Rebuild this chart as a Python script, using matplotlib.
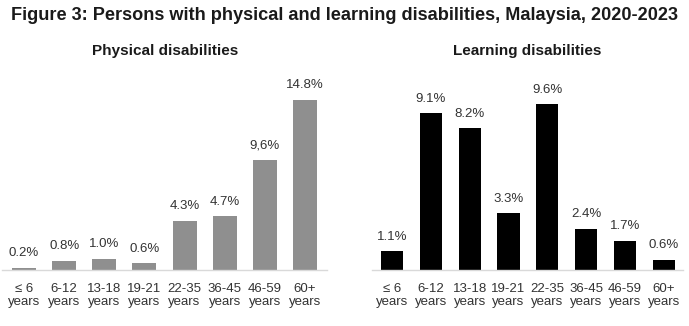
import matplotlib
matplotlib.use("Agg")
import matplotlib.pyplot as plt

plt.rcParams['font.family'] = ['Liberation Sans', 'DejaVu Sans']

categories = ["≤ 6\nyears", "6-12\nyears", "13-18\nyears", "19-21\nyears",
              "22-35\nyears", "36-45\nyears", "46-59\nyears", "60+\nyears"]
physical = [0.2, 0.8, 1.0, 0.6, 4.3, 4.7, 9.6, 14.8]
physical_labels = ["0.2%", "0.8%", "1.0%", "0.6%", "4.3%", "4.7%", "9,6%", "14.8%"]
learning = [1.1, 9.1, 8.2, 3.3, 9.6, 2.4, 1.7, 0.6]
learning_labels = ["1.1%", "9.1%", "8.2%", "3.3%", "9.6%", "2.4%", "1.7%", "0.6%"]

W, H = 689, 326
fig = plt.figure(figsize=(W / 100, H / 100), dpi=100)

def add_ax(left_px, right_px, top_px, bottom_px):
    return fig.add_axes([left_px / W, 1 - bottom_px / H,
                         (right_px - left_px) / W, (bottom_px - top_px) / H])

ax1 = add_ax(2, 327, 86, 270)
ax2 = add_ax(372, 683, 87, 270)

def draw(ax, vals, labels, color, width, xlim, ylim):
    x = list(range(len(vals)))
    bars = ax.bar(x, vals, width=width, color=color)
    for b, lab in zip(bars, labels):
        ax.annotate(lab, (b.get_x() + b.get_width() / 2, b.get_height()),
                    xytext=(0, 6), textcoords="offset points",
                    ha="center", va="bottom", fontsize=9.5, color="#333333")
    ax.set_xlim(*xlim)
    ax.set_ylim(*ylim)
    ax.set_xticks(x)
    ax.set_xticklabels(categories, fontsize=9.5, color="#333333", linespacing=1.2)
    ax.tick_params(axis="x", length=0, pad=9)
    ax.set_yticks([])
    for s in ["top", "right", "left"]:
        ax.spines[s].set_visible(False)
    ax.spines["bottom"].set_color("#d9d9d9")
    ax.spines["bottom"].set_linewidth(1.0)
    ax.patch.set_alpha(0)

draw(ax1, physical, physical_labels, "#8f8f8f", 0.6, (-0.55, 7.55), (0, 16.0))
draw(ax2, learning, learning_labels, "#000000", 0.57, (-0.52, 7.5), (0, 10.6))

fig.text(0.5, 1 - 15 / H, "Figure 3: Persons with physical and learning disabilities, Malaysia, 2020-2023",
         ha="center", va="center", fontsize=13.1, fontweight="bold", color="#1a1a1a")
fig.text(165 / W, 1 - 51 / H, "Physical disabilities", ha="center", va="center",
         fontsize=11, fontweight="bold", color="#1a1a1a")
fig.text(527 / W, 1 - 51 / H, "Learning disabilities", ha="center", va="center",
         fontsize=11, fontweight="bold", color="#1a1a1a")

fig.savefig("out.png", dpi=100, facecolor="white")
